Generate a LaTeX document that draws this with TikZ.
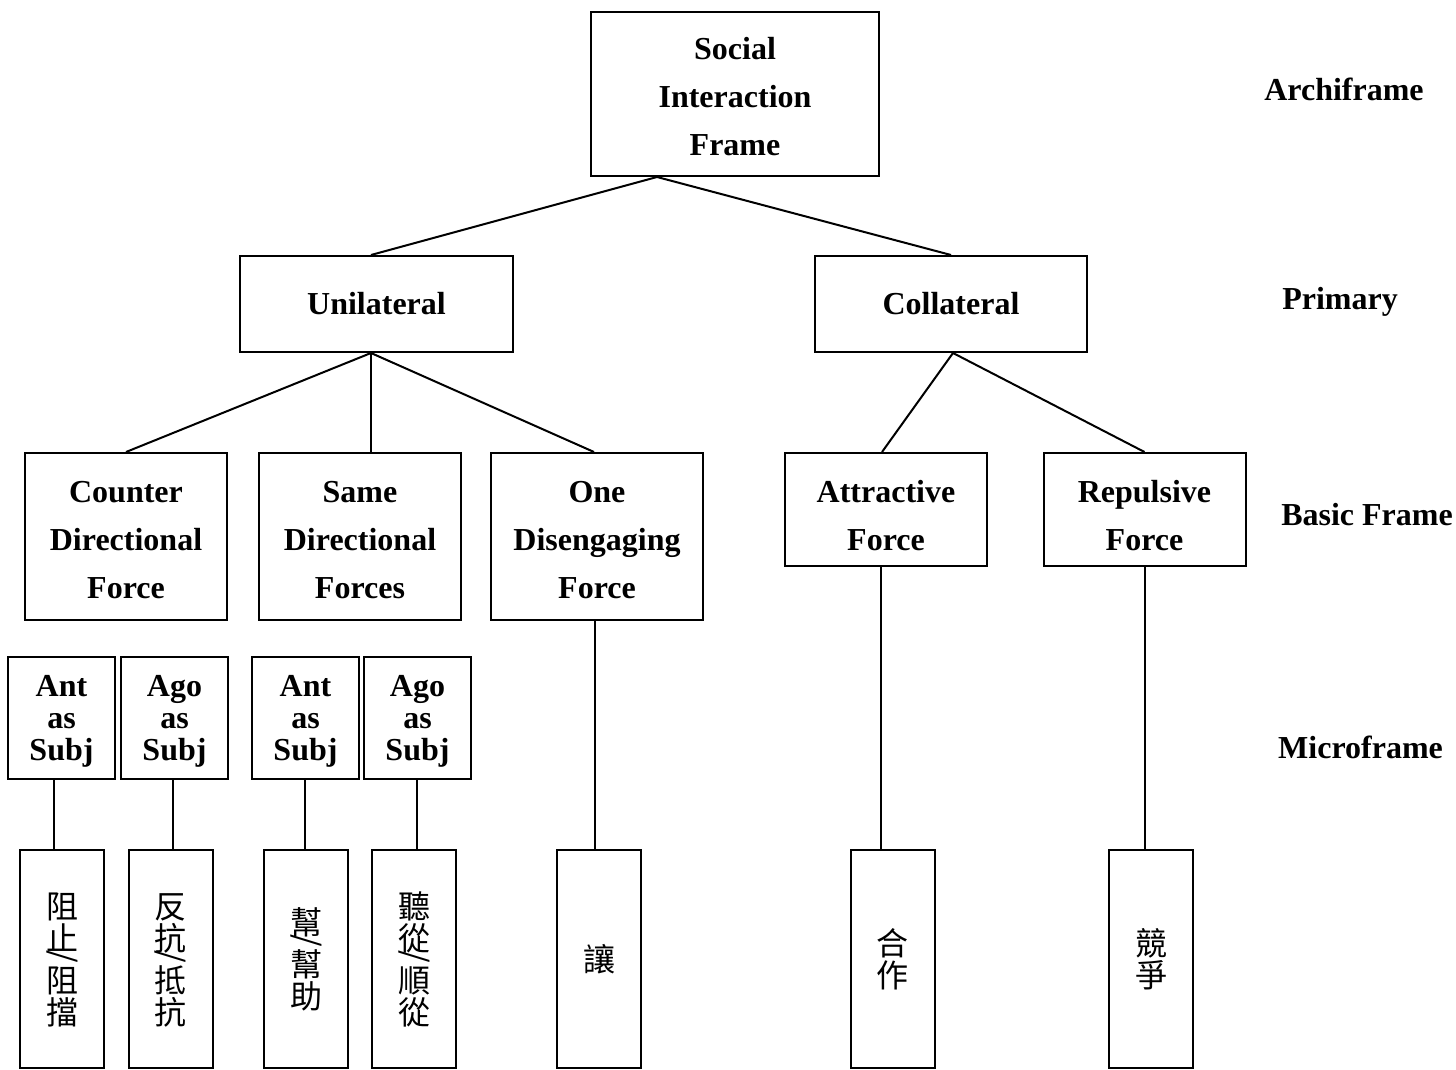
\documentclass[tikz,border=0pt]{standalone}
\usepackage{fontspec}
\setmainfont{Liberation Serif}
\newfontfamily\cjk{Noto Sans CJK TC}
\newsavebox\slbox
\newcommand\vslash{\sbox\slbox{\rotatebox[origin=c]{-90}{/}}\raisebox{\dimexpr(\dp\slbox-\ht\slbox)/2\relax}[5pt][5pt]{\usebox\slbox}}
\newcommand\zi[1]{\vrule height 28pt depth 4pt width 0pt #1}
\newcommand\vtext[1]{\vbox{\offinterlineskip\halign{\hfil##\hfil\cr#1\crcr}}}
\newcommand\dn{\rule{0pt}{28pt}}
\tikzset{
  box/.style={draw, line width=2pt, inner sep=0pt, align=center, font=\bfseries\fontsize{32}{48}\selectfont},
  mbox/.style={draw, line width=2pt, inner sep=0pt, align=center, minimum width=107pt, minimum height=122pt, font=\bfseries\fontsize{32}{32}\selectfont},
  cbox/.style={draw, line width=2pt, inner sep=0pt, minimum width=84pt, minimum height=218pt, font=\cjk\fontsize{32}{32}\selectfont},
  lvl/.style={anchor=base, inner sep=0pt, font=\bfseries\fontsize{32}{38}\selectfont},
  conn/.style={line width=2pt}
}
\begin{document}
\begin{tikzpicture}[x=1pt,y=-1pt]
\useasboundingbox (0,0) rectangle (1456,1070);
% boxes
\node[box, minimum width=288pt, minimum height=164pt] (top) at (735,94) {\dn Social\\Interaction\\Frame};
\node[box, minimum width=273pt, minimum height=96pt] (uni) at (376.5,304) {Unilateral};
\node[box, minimum width=272pt, minimum height=96pt] (coll) at (951,304) {Collateral};
\node[box, minimum width=202pt, minimum height=167pt] (cdf) at (126,536.5) {\dn Counter\\Directional\\Force};
\node[box, minimum width=202pt, minimum height=167pt] (sdf) at (360,536.5) {\dn Same\\Directional\\Forces};
\node[box, minimum width=212pt, minimum height=167pt] (odf) at (597,536.5) {\dn One\\Disengaging\\Force};
\node[box, minimum width=202pt, minimum height=113pt] (att) at (886,509.5) {\rule{0pt}{34pt}Attractive\\Force};
\node[box, minimum width=202pt, minimum height=113pt] (rep) at (1144.5,509.5) {\rule{0pt}{34pt}Repulsive\\Force};
% microframes
\node[mbox] (ant1) at (61.5,718) {\dn Ant\\as\\Subj};
\node[mbox] (ago1) at (174.5,718) {\dn Ago\\as\\Subj};
\node[mbox] (ant2) at (305.5,718) {\dn Ant\\as\\Subj};
\node[mbox] (ago2) at (417.5,718) {\dn Ago\\as\\Subj};
% verbs
\node[cbox] (cj1) at (62,959) {\vtext{\zi{阻}\cr\zi{止}\cr\vslash\cr\zi{阻}\cr\zi{擋}}};
\node[cbox] (cj2) at (170.5,959) {\vtext{\zi{反}\cr\zi{抗}\cr\vslash\cr\zi{抵}\cr\zi{抗}}};
\node[cbox] (cj3) at (306,959) {\vtext{\zi{幫}\cr\vslash\cr\zi{幫}\cr\zi{助}}};
\node[cbox] (cj4) at (414,959) {\vtext{\zi{聽}\cr\zi{從}\cr\vslash\cr\zi{順}\cr\zi{從}}};
\node[cbox] (cj5) at (599,959) {\vtext{\zi{讓}}};
\node[cbox] (cj6) at (892.5,959) {\vtext{\zi{合}\cr\zi{作}}};
\node[cbox] (cj7) at (1151,959) {\vtext{\zi{競}\cr\zi{爭}}};
% level labels
\node[lvl] (l1) at (1344,101) {Archiframe};
\node[lvl] (l2) at (1340,309) {Primary};
\node[lvl] (l3) at (1367,525) {Basic Frame};
\node[lvl] (l4) at (1360.5,758) {Microframe};
% connectors
\draw[conn] ([xshift=-78pt]top.south) -- ([xshift=-5.5pt]uni.north);
\draw[conn] ([xshift=-78pt]top.south) -- (coll.north);
\draw[conn] ([xshift=-5.5pt]uni.south) -- (cdf.north);
\draw[conn] ([xshift=-5.5pt]uni.south) -- ([xshift=11pt]sdf.north);
\draw[conn] ([xshift=-5.5pt]uni.south) -- ([xshift=-3pt]odf.north);
\draw[conn] ([xshift=2pt]coll.south) -- ([xshift=-4pt]att.north);
\draw[conn] ([xshift=2pt]coll.south) -- (rep.north);
\draw[conn] ([xshift=-2pt]odf.south) -- ([xshift=-4pt]cj5.north);
\draw[conn] ([xshift=-5pt]att.south) -- ([xshift=-11.5pt]cj6.north);
\draw[conn] ([xshift=0.5pt]rep.south) -- ([xshift=-6pt]cj7.north);
\draw[conn] ([xshift=-7.5pt]ant1.south) -- ([xshift=-8pt]cj1.north);
\draw[conn] ([xshift=-1.5pt]ago1.south) -- ([xshift=2.5pt]cj2.north);
\draw[conn] ([xshift=-1pt]ant2.south) -- ([xshift=-1.5pt]cj3.north);
\draw[conn] ([xshift=-0.5pt]ago2.south) -- ([xshift=3pt]cj4.north);
\end{tikzpicture}
\end{document}
